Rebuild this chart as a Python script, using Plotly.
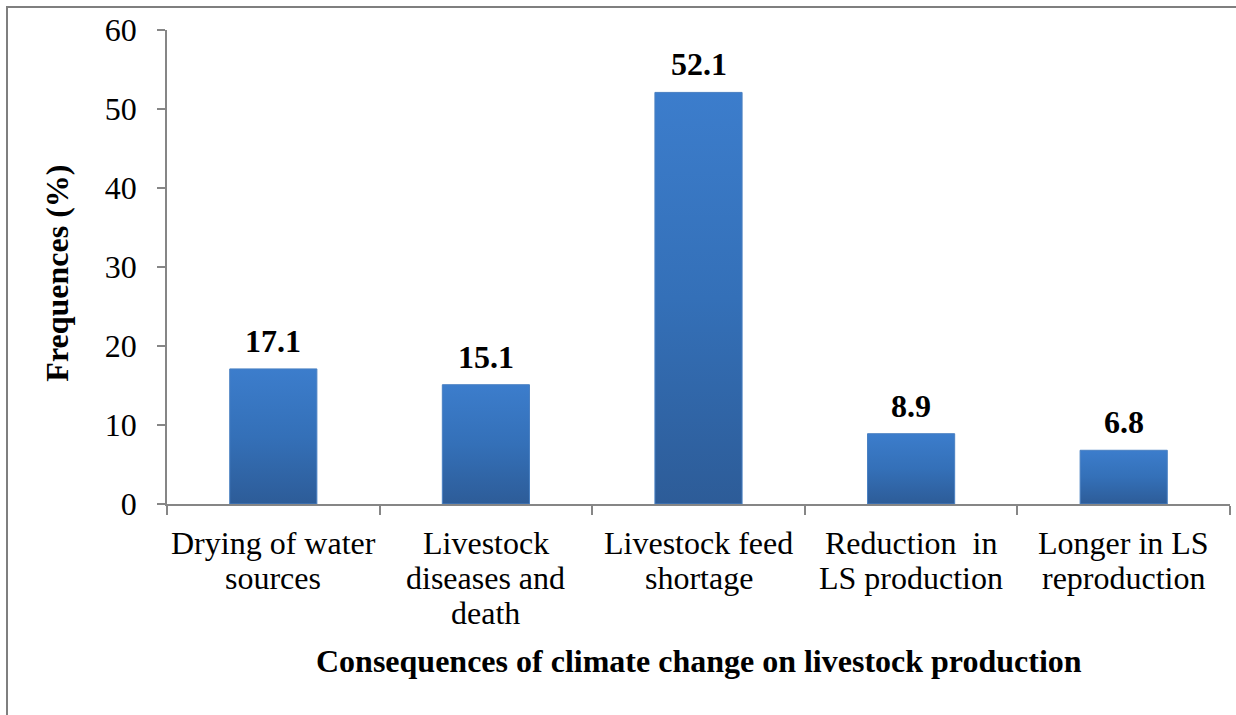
import plotly.graph_objects as go

# Consequences of climate change reported by livestock keepers
categories = [
    "Drying of water<br>sources",
    "Livestock<br>diseases and<br>death",
    "Livestock feed<br>shortage",
    "Reduction  in<br>LS production",
    "Longer in LS<br>reproduction",
]
frequencies = [17.1, 15.1, 52.1, 8.9, 6.8]
y_ticks = [0, 10, 20, 30, 40, 50, 60]

FONT = "Liberation Serif, Times New Roman, serif"
AXIS_GREY = "#868686"
BAR_HALF_WIDTH = 0.205
TEXT_SIZE = 32

fig = go.Figure()

# Each column is a filled polygon so it can carry a vertical colour gradient
for i, v in enumerate(frequencies):
    fig.add_trace(go.Scatter(
        x=[i - BAR_HALF_WIDTH, i + BAR_HALF_WIDTH, i + BAR_HALF_WIDTH, i - BAR_HALF_WIDTH, i - BAR_HALF_WIDTH],
        y=[0, 0, v, v, 0],
        mode="lines",
        fill="toself",
        fillgradient=dict(type="vertical",
                          colorscale=[[0, "#2D5C98"], [0.5, "#3470B8"], [1, "#3C7DCC"]]),
        line=dict(width=1, color="#4A80C2"),
        hoverinfo="skip",
        showlegend=False,
    ))

# Invisible points carrying hover information for each column
fig.add_trace(go.Scatter(
    x=list(range(len(frequencies))),
    y=frequencies,
    mode="markers",
    marker=dict(size=1, opacity=0),
    hovertemplate="%{y:.1f}%<extra></extra>",
    showlegend=False,
))

annotations = []
# Value labels above the columns
for i, v in enumerate(frequencies):
    annotations.append(dict(
        x=i, y=v, xref="x", yref="y",
        text=f"<b>{v:.1f}</b>", showarrow=False,
        xanchor="center", yanchor="middle", yshift=28,
        font=dict(family=FONT, size=TEXT_SIZE, color="black"),
    ))

# Category labels, one annotation per line for tighter line spacing
for i, cat in enumerate(categories):
    for k, line in enumerate(cat.split("<br>")):
        annotations.append(dict(
            x=i, y=0, xref="x", yref="y",
            text=line, showarrow=False,
            xanchor="center", yanchor="middle",
            yshift=-(39 + 35 * k),
            font=dict(family=FONT, size=TEXT_SIZE, color="black"),
        ))

# Axis titles
annotations.append(dict(
    x=0.5, y=-0.331, xref="paper", yref="paper",
    text="<b>Consequences of climate change on livestock production</b>",
    showarrow=False, xanchor="center", yanchor="middle",
    font=dict(family=FONT, size=TEXT_SIZE, color="black"),
))
annotations.append(dict(
    x=-0.1035, y=0.488, xref="paper", yref="paper",
    text="<b>Frequences (%)</b>", textangle=-90,
    showarrow=False, xanchor="center", yanchor="middle",
    font=dict(family=FONT, size=TEXT_SIZE, color="black"),
))

fig.update_layout(
    width=1236, height=715,
    margin=dict(l=167, r=6, t=30, b=211),
    paper_bgcolor="white", plot_bgcolor="white",
    font=dict(family=FONT, size=TEXT_SIZE, color="black"),
    annotations=annotations,
    shapes=[dict(
        type="rect", xref="paper", yref="paper",
        x0=-160 / 1063, x1=1.2, y0=-0.6, y1=497 / 474,
        line=dict(color="#7F7F7F", width=2), fillcolor="rgba(0,0,0,0)",
        layer="below",
    )],
)

fig.update_xaxes(
    range=[-0.5, len(categories) - 0.5],
    tickvals=[i - 0.5 for i in range(len(categories) + 1)],
    showticklabels=False,
    ticks="outside", ticklen=9, tickwidth=1.5, tickcolor=AXIS_GREY,
    showline=True, linecolor=AXIS_GREY, linewidth=1.5,
    showgrid=False, zeroline=False, fixedrange=True,
)
fig.update_yaxes(
    range=[0, 60],
    tickvals=y_ticks,
    ticks="outside", ticklen=8, tickwidth=1.5, tickcolor=AXIS_GREY,
    tickfont=dict(family=FONT, size=TEXT_SIZE, color="black"),
    ticklabelstandoff=14,
    showline=True, linecolor=AXIS_GREY, linewidth=1.5,
    showgrid=False, zeroline=False, fixedrange=True,
)

fig.write_html("out.html")
